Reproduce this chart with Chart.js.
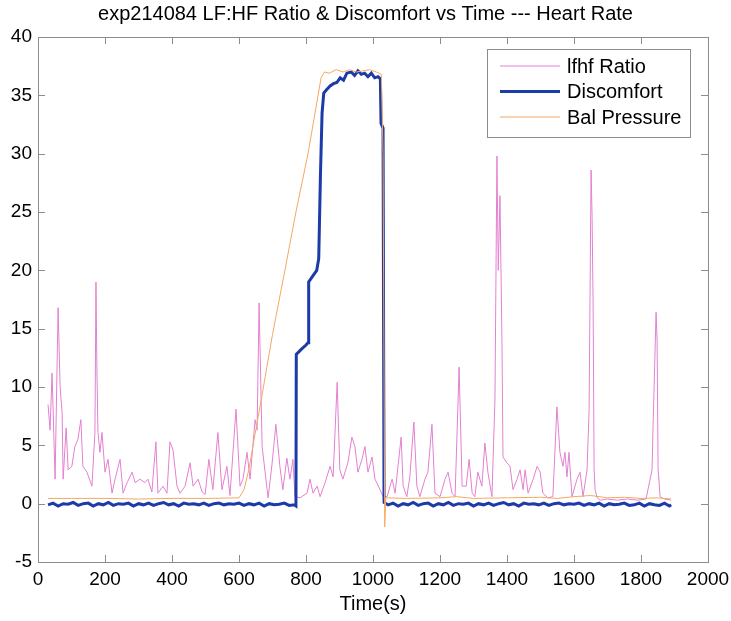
<!DOCTYPE html>
<html>
<head>
<meta charset="utf-8">
<script src="https://cdn.jsdelivr.net/npm/chart.js@4.4.0/dist/chart.umd.min.js"></script>
<style>
  html, body { margin: 0; padding: 0; background: #fff; }
  #wrap { width: 731px; height: 621px; }
</style>
</head>
<body>
<div id="wrap"><canvas id="chart" width="731" height="621"></canvas></div>
<script>
// values
const lfhfTime = [30, 36, 42, 51, 60, 66, 72, 75, 84, 90, 101, 110, 119, 128, 134, 146, 161, 170, 173, 176, 179, 185, 191, 200,
  209, 221, 230, 245, 254, 266, 281, 290, 304, 319, 328, 340, 352, 358, 373, 385, 394, 403, 415, 424, 439, 454, 463, 478,
  490, 499, 510, 522, 537, 549, 564, 573, 591, 603, 612, 624, 633, 648, 654, 660, 669, 684, 687, 699, 710, 722, 731, 743,
  752, 761, 767, 782, 803, 812, 821, 833, 842, 857, 872, 881, 893, 901, 910, 925, 937, 946, 955, 967, 976, 985, 997, 1006,
  1021, 1030, 1042, 1057, 1066, 1084, 1090, 1101, 1110, 1122, 1131, 1140, 1155, 1164, 1176, 1185, 1200, 1215, 1224, 1236,
  1245, 1257, 1266, 1278, 1287, 1296, 1304, 1313, 1325, 1334, 1343, 1355, 1364, 1370, 1374, 1379, 1385, 1388, 1400, 1409,
  1418, 1430, 1439, 1448, 1454, 1463, 1478, 1490, 1499, 1507, 1522, 1537, 1549, 1558, 1567, 1573, 1579, 1585, 1594, 1609,
  1618, 1627, 1639, 1645, 1651, 1654, 1657, 1660, 1663, 1669, 1678, 1700, 1730, 1760, 1790, 1815, 1833, 1836, 1845, 1848,
  1851, 1857, 1870, 1890];
const lfhfRatio = [8.5, 6.3, 11.2, 2.1, 16.8, 10, 7.8, 2.1, 6.5, 2.9, 3.2, 4.9, 5.5, 7.2, 3.2, 2.7, 1.5, 6.1, 19, 11.2, 6.1, 4.4, 6.1, 2.7,
  3.8, 0.9, 2.1, 3.8, 0.9, 1.8, 2.7, 1.8, 2.1, 1.8, 2.1, 1, 5.3, 0.9, 1.5, 0.9, 5.3, 4.6, 1.5, 0.9, 1.5, 3.5, 1.5, 2.1,
  1, 0.8, 3.8, 1.2, 6.1, 1.2, 3.2, 0.7, 8.1, 1.5, 2.1, 4.4, 2.1, 7.2, 6.3, 17.2, 4.9, 1.2, 0.5, 3.5, 6.8, 3.2, 1.2, 3.9,
  2.1, 3.8, 0.6, 0.5, 0.9, 2.1, 0.9, 1.5, 0.6, 1.8, 3.2, 2.3, 10.4, 2.9, 2.1, 3.5, 5.7, 4.9, 2.7, 3.8, 4.9, 2.7, 4, 2.1,
  1.2, 0.6, 0.6, 2.1, 0.9, 5.7, 1.5, 0.6, 2.3, 7, 1.5, 0.6, 2.1, 2.7, 6.8, 0.9, 0.6, 2.1, 2.7, 0.9,
  0.6, 11.7, 1.5, 1.5, 3.8, 0.9, 0.6, 2.7, 1.5, 5.2, 2.7, 0.6, 8.9, 29.8, 20, 26.4, 13.8, 4, 3.5, 3.2,
  1.2, 2.1, 2.9, 1.2, 2.9, 0.9, 2.1, 3.2, 2.7, 0.9, 0.5, 0.6, 8.3, 4.4, 3.2, 4.4, 2.3, 4.4, 0.6, 2.1,
  2.7, 0.6, 2.9, 8, 28.6, 24.6, 17, 3, 1.2, 0.5, 0.3, 0.4, 0.3, 0.4, 0.3, 0.4, 2.9, 6.6, 16.4, 14,
  3, 0.6, 0.4, 0.3];

const discomfortTime = [30, 45, 60, 75, 90, 105, 120, 135, 150, 165, 180, 195, 210, 225, 240, 255, 270, 285, 300, 315, 330, 345,
  360, 375, 390, 405, 420, 435, 450, 465, 480, 495, 510, 525, 540, 555, 570, 585, 600, 615, 630, 645, 660, 675, 690, 705,
  720, 735, 750, 765, 770, 771, 785, 800, 806, 808, 820, 832, 838, 843, 848, 853, 862, 872, 882, 892, 902, 912, 922, 935,
  945, 955, 965, 975, 985, 995, 1005, 1015, 1022, 1024, 1030, 1033, 1045, 1060, 1075, 1090, 1105, 1120, 1135, 1150, 1165,
  1180, 1195, 1210, 1225, 1240, 1255, 1270, 1285, 1300, 1315, 1330, 1345, 1360, 1375, 1390, 1405, 1420, 1435, 1450, 1465,
  1480, 1495, 1510, 1525, 1540, 1555, 1570, 1585, 1600, 1615, 1630, 1645, 1660, 1675, 1690, 1705, 1720, 1735, 1750, 1765,
  1780, 1795, 1810, 1825, 1840, 1855, 1870, 1885, 1890];
const discomfort = [-0.1, 0.05, -0.2, 0, -0.05, 0.1, -0.15, 0, 0.05, -0.2, 0, -0.1, 0.1, -0.15, 0, -0.05, 0.05, -0.2, 0, -0.1, 0.05, -0.15,
  0, 0.1, -0.1, 0, -0.2, 0.05, -0.05, 0, -0.1, 0.05, -0.15, 0, 0.05, -0.1, 0, -0.05, 0.05, -0.15, 0, -0.1, 0.05, -0.2, 0, -0.1,
  -0.05, 0.05, -0.15, -0.1, -0.2, 12.8, 13.2, 13.6, 13.8, 19, 19.5, 20, 21, 28, 33.5, 35.2, 35.5, 35.8, 36, 36.1, 36.5, 36.3, 36.9, 37,
  36.7, 37.1, 36.8, 36.9, 36.6, 36.9, 36.5, 36.6, 36.4, 32.6, 32.2, 0.1, -0.1, 0.05, -0.2, 0, -0.1, 0.1, -0.15, 0, 0.05,
  -0.2, 0, -0.1, 0.1, -0.15, 0, -0.05, 0.05, -0.2, 0, -0.1, 0.05, -0.15, 0, 0.1, -0.1, 0, -0.2, 0.05, -0.05,
  0, -0.1, 0.05, -0.15, 0, 0.05, -0.1, 0, -0.05, 0.05, -0.15, 0, -0.1, 0.05, -0.2, 0, -0.1, -0.05, 0.05, -0.15,
  -0.1, 0.05, -0.2, 0, -0.1, -0.15, 0.05, -0.2, -0.1];

const pressureTime = [30, 100, 200, 300, 400, 500, 600, 615, 630, 645, 670, 700, 737, 770, 806, 830, 845, 855, 870, 890, 910, 930,
  950, 970, 990, 1010, 1025, 1030, 1035, 1038, 1100, 1200, 1250, 1300, 1400, 1500, 1550, 1600, 1650, 1700, 1750, 1800, 1850, 1890];
const balPressure = [0.45, 0.45, 0.45, 0.4, 0.45, 0.45, 0.5, 1.2, 3, 5.5, 9.5, 14.5, 20, 25, 30, 34, 36.5, 37, 36.9, 37.2, 37, 37.2,
  37, 37.1, 37.2, 37, 36.8, 30, -2, 0.5, 0.45, 0.5, 0.6, 0.45, 0.5, 0.55, 0.45, 0.6, 0.7, 0.5, 0.55, 0.45, 0.5, 0.4];

const xTicks = [0, 200, 400, 600, 800, 1000, 1200, 1400, 1600, 1800, 2000];
const yTicks = [-5, 0, 5, 10, 15, 20, 25, 30, 35, 40];

const toPoints = (xs, ys) => xs.map((x, i) => ({ x: x, y: ys[i] }));

const axisColor = '#8c8c8c';
const fontFamily = '"Liberation Sans", Arial, sans-serif';

// MATLAB style box with inward ticks
const boxPlugin = {
  id: 'matlabBox',
  afterDatasetsDraw(chart) {
    const { ctx, chartArea: a, scales } = chart;
    const len = 7;
    ctx.save();
    ctx.strokeStyle = axisColor;
    ctx.lineWidth = 1;
    ctx.strokeRect(Math.round(a.left) + 0.5, Math.round(a.top) + 0.5, Math.round(a.right - a.left), Math.round(a.bottom - a.top));
    ctx.beginPath();
    xTicks.forEach((v) => {
      const px = Math.round(scales.x.getPixelForValue(v)) + 0.5;
      ctx.moveTo(px, a.bottom); ctx.lineTo(px, a.bottom - len);
      ctx.moveTo(px, a.top); ctx.lineTo(px, a.top + len);
    });
    yTicks.forEach((v) => {
      const py = Math.round(scales.y.getPixelForValue(v)) + 0.5;
      ctx.moveTo(a.left, py); ctx.lineTo(a.left + len, py);
      ctx.moveTo(a.right, py); ctx.lineTo(a.right - len, py);
    });
    ctx.stroke();
    ctx.restore();
  }
};

// legend box drawn inside the plot, top right
const legendPlugin = {
  id: 'matlabLegend',
  afterDraw(chart) {
    const { ctx, chartArea: a } = chart;
    const w = 203, h = 88;
    const x0 = Math.round(a.right - 18 - w), y0 = Math.round(a.top + 12);
    ctx.save();
    ctx.fillStyle = '#fff';
    ctx.fillRect(x0, y0, w, h);
    ctx.strokeStyle = axisColor;
    ctx.lineWidth = 1;
    ctx.strokeRect(x0 + 0.5, y0 + 0.5, w, h);
    ctx.font = '20px ' + fontFamily;
    ctx.textBaseline = 'middle';
    ctx.fillStyle = '#000';
    chart.data.datasets.forEach((ds, i) => {
      const y = y0 + 17 + i * 25.5;
      ctx.strokeStyle = ds.borderColor;
      ctx.lineWidth = ds.borderWidth;
      ctx.beginPath();
      ctx.moveTo(x0 + 13, y);
      ctx.lineTo(x0 + 73, y);
      ctx.stroke();
      ctx.fillText(ds.label, x0 + 80, y + 1);
    });
    ctx.restore();
  }
};

Chart.defaults.font.family = fontFamily;
Chart.defaults.font.size = 19;
Chart.defaults.color = '#000';

const ctx = document.getElementById('chart').getContext('2d');
new Chart(ctx, {
  type: 'line',
  data: {
    datasets: [
      {
        label: 'lfhf Ratio',
        data: toPoints(lfhfTime, lfhfRatio),
        borderColor: 'rgb(228, 128, 208)',
        borderWidth: 1,
        order: 3,
      },
      {
        label: 'Discomfort',
        data: toPoints(discomfortTime, discomfort),
        borderColor: 'rgb(28, 58, 168)',
        borderWidth: 3,
        order: 2,
      },
      {
        label: 'Bal Pressure',
        data: toPoints(pressureTime, balPressure),
        borderColor: 'rgb(244, 168, 96)',
        borderWidth: 1,
        order: 1,
      },
    ],
  },
  options: {
    responsive: false,
    animation: false,
    events: [],
    elements: { point: { radius: 0 }, line: { tension: 0 } },
    layout: { padding: { left: 0, right: 0, top: 0, bottom: 0 } },
    plugins: {
      legend: { display: false },
      tooltip: { enabled: false },
      title: {
        display: true,
        text: 'exp214084 LF:HF Ratio & Discomfort vs Time --- Heart Rate',
        font: { size: 20, weight: 'normal' },
        color: '#000',
        padding: { top: 2, bottom: 11 },
      },
    },
    scales: {
      x: {
        type: 'linear',
        min: 0,
        max: 2000,
        afterBuildTicks: (s) => { s.ticks = xTicks.map((v) => ({ value: v })); },
        grid: { display: false, drawTicks: false },
        border: { display: false },
        ticks: { padding: 6, maxRotation: 0, autoSkip: false, callback: (v) => String(v) },
        title: { display: true, text: 'Time(s)', font: { size: 20 }, padding: { top: 0, bottom: 5 } },
        afterFit: (s) => { s.height = 59; s.paddingRight = 23; },
      },
      y: {
        type: 'linear',
        min: -5,
        max: 40,
        afterBuildTicks: (s) => { s.ticks = yTicks.map((v) => ({ value: v })); },
        grid: { display: false, drawTicks: false },
        border: { display: false },
        ticks: { padding: 6, callback: (v) => String(v) },
        afterFit: (s) => { s.width = 38; },
      },
    },
  },
  plugins: [boxPlugin, legendPlugin],
});
</script>
</body>
</html>
